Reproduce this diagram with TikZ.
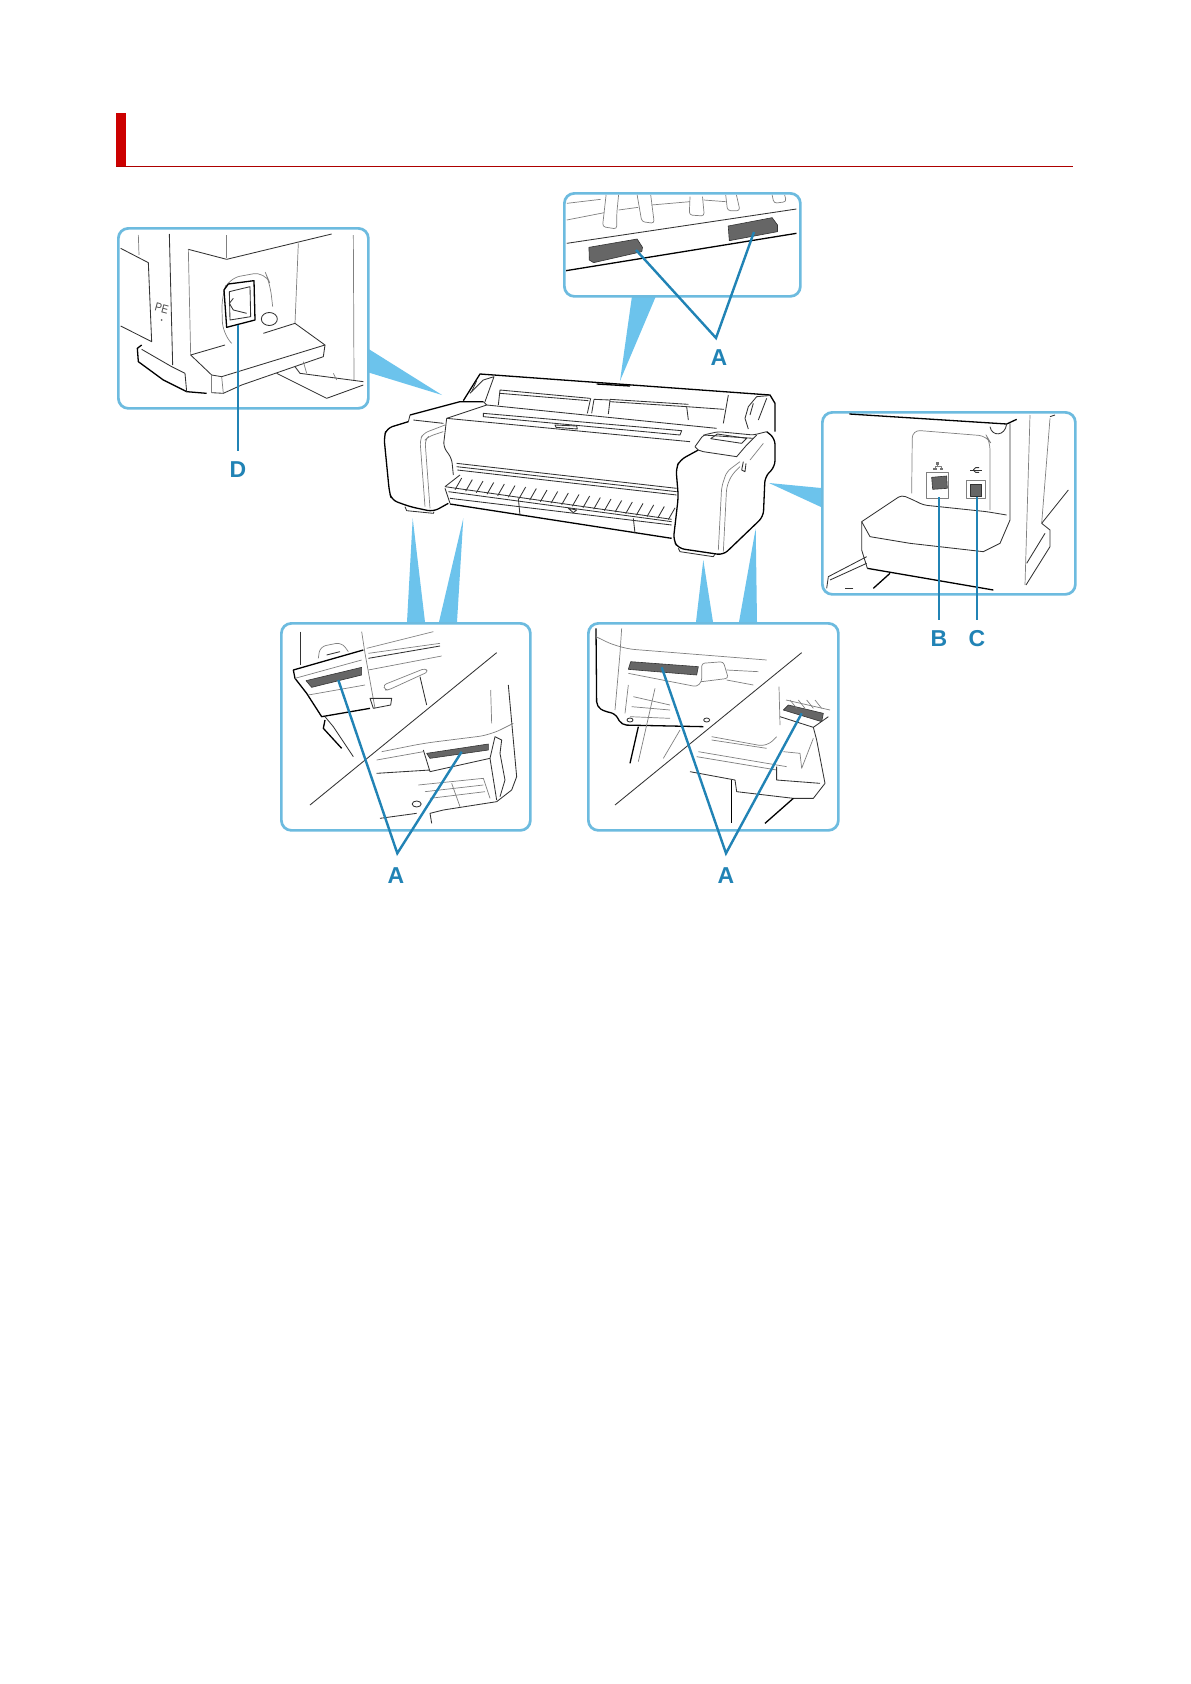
\documentclass[tikz,border=0pt]{standalone}
\usepackage{fontspec}
\setmainfont{Liberation Sans}
\definecolor{frameblue}{HTML}{6DBBDF}
\definecolor{wedgeblue}{HTML}{6CC3EC}
\definecolor{leadblue}{HTML}{2183B5}
\definecolor{headred}{HTML}{CC0000}
\tikzset{
  callout/.style={draw=frameblue,line width=2.7pt,rounded corners=10pt,fill=white,anchor=north west,inner sep=0pt},
  wedge/.style={fill=wedgeblue,draw=none},
  leader/.style={draw=leadblue,line width=2.4pt,line join=miter},
  partlabel/.style={text=leadblue,font=\fontsize{23}{25}\selectfont\bfseries,inner sep=0pt},
  ink/.style={draw=black!80,line width=.85pt,line join=round},
  thin ink/.style={draw=black!50,line width=.7pt,line join=round},
  thick ink/.style={draw=black,line width=1.3pt,line join=round},
  slot/.style={fill=black!60,draw=black!80,line width=.6pt,line join=round}
}
\begin{document}
\begin{tikzpicture}[x=1pt,y=-1pt]
\useasboundingbox (0,0) rectangle (1191,1684);
\fill[white] (0,0) rectangle (1191,1684);
% heading
\fill[headred] (116,113) rectangle (126,167);
\draw[headred!85!black,line width=.9pt] (116,166.5) -- (1073,166.5);
% wedge tips and bases
\coordinate (tipD) at (442,395);
\coordinate (tipT) at (620,381);
\coordinate (tipP) at (769,483);
\coordinate (tipL1) at (412.7,518.3);
\coordinate (tipL2) at (463.3,518.3);
\coordinate (tipR1) at (703.3,560);
\coordinate (tipR2) at (755.7,528.3);
\fill[wedge] (tipD) -- (367,348) -- (367,372) -- cycle;
\fill[wedge] (tipT) -- (632,296) -- (656,296) -- cycle;
\fill[wedge] (tipP) -- (821,488) -- (821,507) -- cycle;
\fill[wedge] (tipL1) -- (407,622) -- (425,622) -- cycle;
\fill[wedge] (tipL2) -- (439,622) -- (457,622) -- cycle;
\fill[wedge] (tipR1) -- (696,622) -- (713,622) -- cycle;
\fill[wedge] (tipR2) -- (739,622) -- (757,622) -- cycle;
% inset frames
\node[callout,minimum width=250pt,minimum height=180pt] (boxD) at (117,227) {};
\node[callout,minimum width=236pt,minimum height=103pt] (boxT) at (563,192) {};
\node[callout,minimum width=253pt,minimum height=182pt] (boxP) at (821,411) {};
\node[callout,minimum width=249pt,minimum height=207pt] (boxL) at (280,622) {};
\node[callout,minimum width=250pt,minimum height=207pt] (boxR) at (587,622) {};

% ===== printer
\begin{scope}[shift={(370,360)},x=.33333pt,y=-.33333pt]
 \draw[thick ink] (280,122) -- (330,42) -- (1200,105) -- (1215,130) -- (1215,215);
 \draw[ink] (300,100) -- (340,60) -- (372,50) -- (345,125);
 \draw[ink] (320,62) -- (305,95);
 \draw[thick ink] (120,165) -- (270,125) -- (340,125);
 \draw[ink] (340,125) -- (350,135) -- (230,175);
 \draw[ink] (120,165) -- (115,185);
 \draw[ink] (130,180) -- (220,190);
 % left housing
 \draw[thick ink,rounded corners=6pt] (115,185) -- (50,205) -- (42,232) -- (58,395) -- (65,420) -- (120,440) -- (190,455) -- (235,430);
 \draw[ink] (105,440) -- (110,452) -- (190,460) -- (192,455);
 \draw[thin ink,rounded corners=5pt] (225,195) -- (160,220) -- (150,240) -- (165,440);
 \draw[thin ink,rounded corners=5pt] (220,215) -- (175,230) -- (165,240) -- (180,445);
 % main cover
 \draw[ink,rounded corners=5pt] (230,175) -- (220,260) -- (245,295) -- (250,345);
 \draw[ink] (230,175) -- (960,245);
 % rear
 \draw[ink] (385,135) -- (390,90) -- (660,115);
 \draw[ink] (390,100) -- (655,122);
 \draw[ink] (720,125) -- (950,140) -- (955,180);
 \draw[ink] (720,118) -- (955,133);
 \draw[ink] (662,115) -- (652,160);
 \draw[ink] (672,118) -- (665,160);
 \draw[ink] (720,120) -- (715,162);
 \draw[ink] (672,118) -- (720,120);
 \draw[ink] (950,140) -- (1062,148);
 \draw[ink] (1075,105) -- (1060,190);
 \draw[ink] (340,160) -- (935,212) -- (930,225) -- (340,170) -- cycle;
 \draw[ink] (350,135) -- (1040,205);
 \draw[ink] (555,195) -- (620,198) -- (622,207) -- (558,202) -- cycle;
 \draw[thick ink] (680,72) -- (780,78);
 % right arm
 \draw[ink] (1125,175) -- (1135,140) -- (1160,110) -- (1195,107);
 \draw[ink] (1190,115) -- (1165,180);
 \draw[ink] (1125,175) -- (1135,207);
 \draw[ink] (1150,130) -- (1140,165);
 % right housing
 \draw[thick ink,rounded corners=6pt] (985,270) -- (930,300) -- (918,325) -- (925,410) -- (910,540) -- (925,565) -- (1060,585) -- (1180,470) -- (1185,350) -- (1215,320) -- (1215,235) -- (1190,215);
 \draw[ink] (925,565) -- (930,575) -- (1030,590) -- (1035,582);
 \draw[ink,rounded corners=3pt] (975,260) -- (1000,225) -- (1045,215) -- (1150,225) -- (1190,215);
 \draw[ink] (1000,225) -- (1150,235);
 \draw[ink] (1022,236) -- (1042,222) -- (1130,235) -- (1115,250) -- cycle;
 \draw[ink] (975,260) -- (985,270) -- (1000,275) -- (1100,290) -- (1130,255) -- (1160,225);
 \draw[ink] (1120,305) -- (1115,330) -- (1125,335) -- (1128,310);
 \draw[thin ink,rounded corners=5pt] (1110,305) -- (1070,335) -- (1055,380) -- (1045,570);
 \draw[thin ink,rounded corners=5pt] (1110,320) -- (1085,345) -- (1070,380) -- (1060,575);
 \draw[thin ink] (1180,250) -- (1140,300);
 % tray
 \draw[ink] (260,310) -- (920,385);
 \draw[ink] (260,320) -- (920,395);
 \draw[ink] (262,330) -- (920,405);
 \draw[ink] (225,380) -- (270,345);
 \draw[ink] (225,380) -- (905,478);
 \draw[ink] (225,385) -- (240,430);
 \draw[ink] (240,415) -- (905,495);
 \draw[ink] (235,395) -- (905,485);
 \draw[thick ink] (240,432) -- (905,535);
 \draw[ink] (445,415) -- (450,466);
 \draw[ink] (790,475) -- (795,520);
 \foreach \p in {255,287,...,895}
   \draw[ink] (\p,{385+(\p-225)*.14}) -- (\p+20,{350+(\p-225)*.14});
 \draw[ink] (595,445) -- (620,450) -- (610,458) -- cycle;
\end{scope}

% ===== inset D
\begin{scope}[shift={(100,90)},x=.33333pt,y=-.33333pt]
 \draw[ink] (62,475) -- (145,518) -- (155,755) -- (62,708);
 \draw[thin ink] (115,435) -- (117,495);
 \draw[ink] (208,432) -- (218,825);
 \draw[thin ink] (380,435) -- (380,505);
 \draw[ink] (265,478) -- (380,508) -- (695,432);
 \draw[thin ink] (265,478) -- (272,795);
 \draw[thin ink] (595,460) -- (585,700);
 \draw[thin ink] (760,435) -- (762,870);
 \draw[ink] (272,795) -- (335,855) -- (365,860) -- (675,765) -- (585,700) -- (490,730);
 \draw[ink] (272,795) -- (375,765);
 \draw[ink] (675,765) -- (670,800) -- (425,885) -- (370,910) -- (335,908);
 \draw[thin ink] (335,855) -- (335,908);
 \draw[thin ink] (365,860) -- (370,910);
 \draw[thick ink] (125,765) -- (112,775) -- (115,815) -- (190,870) -- (260,905) -- (320,910);
 \draw[ink] (125,778) -- (215,830) -- (255,850) -- (260,905);
 \draw[ink] (530,850) -- (680,925) -- (790,885);
 \draw[ink] (585,830) -- (600,850) -- (790,875);
 \draw[thin ink] (610,815) -- (620,850);
 \draw[thin ink] (700,850) -- (710,870);
 \draw[thin ink,rounded corners=12pt] (395,760) -- (368,730) -- (365,620) -- (385,565) -- (495,545) -- (510,580) -- (518,650);
 \draw[thick ink] (372,600) -- (385,582) -- (462,572) -- (465,690) -- (380,712) -- cycle;
 \draw[ink] (388,605) -- (450,590) -- (452,680) -- (390,690) -- cycle;
 \draw[ink] (400,625) -- (388,640) -- (400,660) -- (440,670);
 \draw[ink] (508,687) ellipse [x radius=8pt,y radius=6.5pt];
 \node[text=black!70,font=\fontsize{12}{13}\selectfont,rotate=-15,inner sep=0pt,xscale=.85] (pe) at (185,655) {PE};
 \fill[black!60] (185,690) circle (1pt);
\end{scope}

% ===== inset top (x scale differs)
\begin{scope}[shift={(540,170)},x=.35714pt,y=-.33333pt]
 \draw[thin ink] (75,100) -- (170,88);
 \draw[thin ink] (75,150) -- (180,128);
 \draw[thin ink] (220,120) -- (275,112);
 \draw[thin ink] (312,105) -- (420,95);
 \draw[thin ink] (458,90) -- (520,95);
 \draw[thin ink,rounded corners=3pt] (185,75) -- (175,170) -- (215,177) -- (215,130) -- (220,75);
 \draw[thin ink,rounded corners=3pt] (272,75) -- (285,155) -- (320,160) -- (310,75);
 \draw[thin ink,rounded corners=3pt] (420,80) -- (418,135) -- (460,138) -- (455,80);
 \draw[thin ink,rounded corners=3pt] (520,75) -- (525,122) -- (560,122) -- (550,75);
 \draw[thin ink,rounded corners=3pt] (650,75) -- (655,100) -- (690,95) -- (685,75);
 \draw[ink] (75,220) -- (718,117);
 \draw[thick ink] (73,302) -- (718,190);
 \draw[slot] (137,232) -- (272,207) -- (287,232) -- (285,245) -- (150,278) -- (138,270) -- cycle;
 \draw[slot] (527,168) -- (650,143) -- (665,165) -- (665,185) -- (530,212) -- cycle;
\end{scope}

% ===== inset ports
\begin{scope}[shift={(810,400)},x=.33333pt,y=-.33333pt]
 \draw[thick ink] (118,42) -- (590,72) -- (620,58);
 \draw[ink] (600,70) -- (600,360) -- (570,430) -- (520,455) -- (300,430) -- (180,410) -- (155,365);
 \draw[ink] (540,80) .. controls (545,110) and (585,110) .. (590,72);
 \draw[thin ink,rounded corners=8pt] (305,280) -- (307,90) -- (530,108) -- (540,125) -- (540,330);
 \draw[ink,rounded corners=4pt] (155,365) -- (275,285) -- (310,300) -- (340,315) -- (530,335) -- (590,345);
 \draw[ink] (155,365) -- (155,450) -- (172,505);
 \draw[thick ink] (172,505) -- (550,570);
 \draw[ink] (170,470) -- (55,530) -- (50,565);
 \draw[ink] (170,490) -- (60,540);
 \draw[thick ink] (240,520) -- (190,565);
 \draw[ink] (130,565) -- (105,565);
 \draw[thin ink] (660,45) -- (645,555);
 \draw[thin ink] (720,55) -- (695,370);
 \draw[ink] (775,270) -- (695,370) -- (720,390) -- (720,440) -- (648,555);
 \draw[ink] (705,400) -- (650,490);
 \draw[ink] (720,50) -- (735,45);
 \draw[thin ink] (350,218) rectangle (415,295);
 \draw[slot] (365,232) -- (410,228) -- (412,265) -- (368,268) -- cycle;
 \draw[thin ink] (470,240) rectangle (525,295);
 \draw[slot] (482,252) rectangle (515,290);
 \fill[black!55] (378,187) rectangle (386,194);
 \fill[black!55] (370,203) rectangle (380,210);
 \fill[black!55] (390,203) rectangle (400,210);
 \draw[thin ink] (382,194) -- (382,200) -- (375,200) -- (375,203);
 \draw[thin ink] (382,200) -- (395,200) -- (395,203);
 \draw[ink] (480,210) -- (515,210);
 \draw[ink] (490,210) -- (497,203) -- (507,203);
 \draw[ink] (490,210) -- (497,217) -- (507,217);
\end{scope}

% ===== inset lower left
\begin{scope}[shift={(270,610)},x=.33333pt,y=-.33333pt]
 \draw[ink] (120,585) -- (680,128);
 \draw[ink] (92,65) -- (92,165);
 \draw[thin ink] (275,65) -- (285,130) -- (315,295);
 \draw[thin ink] (290,115) -- (490,65);
 \draw[thin ink] (295,130) -- (510,100);
 \draw[ink] (295,145) -- (510,108);
 \draw[thin ink] (295,180) -- (515,138);
 \draw[thick ink] (280,120) -- (70,180) -- (75,205) -- (110,250) -- (155,320) -- (300,295);
 \draw[thin ink] (75,205) -- (275,150);
 \draw[slot] (108,212) -- (275,172) -- (275,195) -- (125,232) -- cycle;
 \draw[thin ink] (115,255) -- (285,225);
 \draw[ink] (165,320) -- (190,350) -- (250,440);
 \draw[thick ink] (165,330) -- (160,355) -- (215,415);
 \draw[thin ink,rounded corners=3pt] (345,240) -- (340,225) -- (465,175) -- (475,185) -- (355,240) -- cycle;
 \draw[ink] (450,200) -- (470,285);
 \draw[ink] (300,265) -- (365,265) -- (362,285) -- (310,295) -- cycle;
 \draw[thin ink,rounded corners=6pt] (145,145) -- (150,110) -- (215,97) -- (235,125);
 \draw[ink] (170,135) -- (210,125);
 \draw[thin ink] (662,240) -- (665,340);
 \draw[ink] (715,225) -- (740,500) -- (725,540) -- (680,575) -- (520,600) -- (480,610) -- (485,640);
 \draw[ink] (330,625) -- (440,610);
 \draw[thin ink,rounded corners=12pt] (335,425) -- (460,400) -- (660,375) -- (730,340);
 \draw[thin ink] (320,450) -- (460,425);
 \draw[ink] (320,490) -- (480,480);
 \draw[slot] (470,430) -- (655,402) -- (655,420) -- (480,445) -- cycle;
 \draw[ink] (460,420) -- (480,485) -- (660,445) -- (675,380) -- (695,390) -- (690,430) -- (705,510) -- (690,560);
 \draw[ink] (660,445) -- (680,570);
 \draw[thin ink] (445,525) -- (640,505) -- (660,565);
 \draw[thin ink] (465,545) -- (640,525);
 \draw[thin ink] (480,565) -- (645,545);
 \draw[thin ink] (545,520) -- (570,590);
 \draw[ink] (440,582) ellipse [x radius=4.5pt,y radius=3pt];
\end{scope}

% ===== inset lower right
\begin{scope}[shift={(580,610)},x=.33333pt,y=-.33333pt]
 \draw[ink] (105,585) -- (665,128);
 \draw[thick ink,rounded corners=5pt] (48,55) -- (50,290) -- (75,305) -- (105,310) -- (125,345) -- (370,350);
 \draw[thin ink,rounded corners=15pt] (48,80) -- (120,115) -- (560,150);
 \draw[thin ink] (125,55) -- (120,130) -- (105,300);
 \draw[slot] (145,178) -- (152,155) -- (355,170) -- (350,195) -- cycle;
 \draw[thin ink,rounded corners=3pt] (145,190) -- (350,230) -- (365,215) -- (365,160) -- (430,155) -- (445,205) -- (365,215);
 \draw[thin ink] (440,180) -- (535,185);
 \draw[thin ink] (440,210) -- (520,225);
 \draw[thin ink] (145,225) -- (135,310);
 \draw[thin ink] (160,260) -- (270,285);
 \draw[thin ink] (155,290) -- (270,300);
 \draw[thin ink] (150,320) -- (270,325);
 \draw[thin ink] (225,235) -- (175,455);
 \draw[thick ink] (175,350) -- (150,460);
 \draw[thin ink] (300,360) -- (250,445);
 \draw[ink] (380,330) ellipse [x radius=3pt,y radius=2pt];
 \draw[ink] (150,330) ellipse [x radius=3pt,y radius=2pt];
 \draw[thin ink] (597,230) -- (600,345);
 \draw[slot] (610,300) -- (625,285) -- (730,310) -- (725,335) -- cycle;
 \draw[thin ink] (618,270) -- (750,300);
 \foreach \p in {630,655,680,705}
   \draw[thin ink] (\p,270) -- (\p+20,295);
 \draw[ink] (600,320) -- (700,352) -- (710,390) -- (735,520) -- (700,565) -- (640,565) -- (470,545) -- (465,510) -- (330,485);
 \draw[ink] (700,352) -- (745,320);
 \draw[thin ink,rounded corners=8pt] (395,380) -- (560,410) -- (590,380);
 \draw[thin ink] (395,390) -- (560,415);
 \draw[thin ink] (355,425) -- (620,470);
 \draw[thin ink] (350,440) -- (590,480);
 \draw[ink] (590,470) -- (590,510) -- (720,520);
 \draw[thick ink] (455,510) -- (455,640);
 \draw[thick ink] (640,565) -- (555,640);
 \draw[thin ink] (610,425) -- (660,430) -- (665,475) -- (700,385);
\end{scope}

% ===== leaders and labels
\node[partlabel] (labD) at (238,470) {D};
\node[partlabel] (labT) at (719,358) {A};
\node[partlabel] (labB) at (939,639) {B};
\node[partlabel] (labC) at (977,639) {C};
\node[partlabel] (labL) at (396,876) {A};
\node[partlabel] (labR) at (726,876) {A};
\coordinate (pD) at (238,325);
\coordinate (endD) at (238,451);
\coordinate (pT1) at (636,250);
\coordinate (pT2) at (754,232);
\coordinate (apexT) at (716,338);
\coordinate (pB) at (939,497);
\coordinate (endB) at (939,620);
\coordinate (pC) at (977,497);
\coordinate (endC) at (977,620);
\coordinate (pL1) at (338.3,680);
\coordinate (pL2) at (461.7,751.7);
\coordinate (apexL) at (397.3,853.3);
\coordinate (pR1) at (661.7,667.3);
\coordinate (pR2) at (801.7,713.3);
\coordinate (apexR) at (726,853.3);
\draw[leader] (pD) -- (endD);
\draw[leader] (pT1) -- (apexT) -- (pT2);
\draw[leader] (pB) -- (endB);
\draw[leader] (pC) -- (endC);
\draw[leader] (pL1) -- (apexL) -- (pL2);
\draw[leader] (pR1) -- (apexR) -- (pR2);
\end{tikzpicture}
\end{document}
